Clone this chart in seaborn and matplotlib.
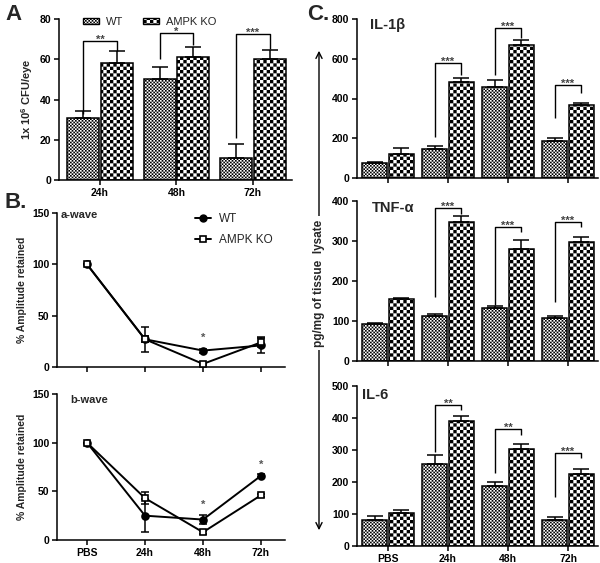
import warnings
import numpy as np
import pandas as pd
import matplotlib
matplotlib.use("Agg")
import matplotlib.pyplot as plt
import matplotlib.hatch as mhatch
from matplotlib.path import Path
from matplotlib.patches import Patch, FancyArrowPatch
from matplotlib.lines import Line2D
import seaborn as sns

warnings.filterwarnings("ignore")

# ---------------------------------------------------------------
# Data
# ---------------------------------------------------------------
groups = ["WT", "AMPK KO"]

# A: bacterial burden
cfu_times = ["24h", "48h", "72h"]
cfu_wt = [31, 50, 11]
cfu_wt_err = [3.5, 6, 7]
cfu_ko = [58, 61, 60]
cfu_ko_err = [6, 5, 4.5]
cfu_stars = ["**", "*", "***"]
cfu_br_top = [69, 73, 72.5]
cfu_br_left = [33, 60, 21]
cfu_br_right = [64, 67, 65]

# B: ERG amplitude retained
wave_times = ["PBS", "24h", "48h", "72h"]
awave_wt = [100, 27, 16, 21]
awave_wt_err = [0, 12, 2, 7]
awave_ko = [100, 27, 3, 24]
awave_ko_err = [0, 3, 1, 5]
awave_star_at = ["48h"]
awave_star_y = [28]

bwave_wt = [100, 25, 21, 66]
bwave_wt_err = [0, 17, 5, 1.5]
bwave_ko = [100, 43, 8, 46]
bwave_ko_err = [0, 6, 1.5, 1.5]
bwave_star_at = ["48h", "72h"]
bwave_star_y = [36, 77]

# C: cytokines
cyto_times = ["PBS", "24h", "48h", "72h"]
il1_wt = [75, 148, 460, 185]
il1_wt_err = [8, 15, 35, 18]
il1_ko = [120, 485, 670, 365]
il1_ko_err = [30, 18, 25, 12]
il1_stars = ["", "***", "***", "***"]
il1_br_top = [0, 579, 755, 468]
il1_br_left = [0, 206, 518, 302]
il1_br_right = [0, 518, 704, 427]

tnf_wt = [92, 112, 132, 108]
tnf_wt_err = [3, 6, 6, 4]
tnf_ko = [155, 348, 280, 298]
tnf_ko_err = [3, 15, 23, 13]
tnf_stars = ["", "***", "***", "***"]
tnf_br_top = [0, 382, 335, 348]
tnf_br_left = [0, 160, 140, 148]
tnf_br_right = [0, 368, 322, 335]

il6_wt = [82, 255, 188, 82]
il6_wt_err = [13, 28, 12, 10]
il6_ko = [103, 390, 303, 225]
il6_ko_err = [10, 17, 17, 15]
il6_stars = ["", "**", "**", "***"]
il6_br_top = [0, 441, 366, 291]
il6_br_left = [0, 294, 228, 153]
il6_br_right = [0, 425, 347, 275]


# ---------------------------------------------------------------
# checkerboard fill ('c' in a hatch string), like the GraphPad fills
# ---------------------------------------------------------------
class CheckerHatch(mhatch.HatchPatternBase):
    def __init__(self, hatch, density):
        self.n = hatch.count("c") * density
        self.num_vertices = (self.n * self.n // 2) * 5

    def set_vertices_and_codes(self, vertices, codes):
        s = 1.0 / self.n
        k = 0
        for i in range(self.n):
            for j in range(self.n):
                if (i + j) % 2:
                    continue
                x, y = i * s, j * s
                vertices[k:k + 5] = [(x, y), (x + s, y), (x + s, y + s), (x, y + s), (x, y)]
                codes[k:k + 5] = [Path.MOVETO, Path.LINETO, Path.LINETO, Path.LINETO, Path.CLOSEPOLY]
                k += 5


mhatch._hatch_types.append(CheckerHatch)
hatches = {"WT": "c" * 10, "AMPK KO": "c" * 5}

sns.set_theme(style="ticks")
plt.rcParams.update({
    "font.family": ["Liberation Sans", "DejaVu Sans"],
    "font.weight": "bold",
    "axes.labelweight": "bold",
    "axes.edgecolor": "black",
    "axes.linewidth": 1.1,
    "xtick.color": "black",
    "ytick.color": "black",
    "xtick.major.width": 1.1,
    "ytick.major.width": 1.1,
    "xtick.major.size": 3.5,
    "ytick.major.size": 3.5,
    "xtick.major.pad": 2.5,
    "ytick.major.pad": 2,
    "xtick.labelsize": 7.5,
    "ytick.labelsize": 7.5,
    "hatch.linewidth": 0.0,
    "hatch.color": "black",
    "mathtext.fontset": "custom",
    "mathtext.rm": "Liberation Sans:bold",
    "mathtext.bf": "Liberation Sans:bold",
    "mathtext.it": "Liberation Sans:bold",
})

W, H = 600, 563
fig = plt.figure(figsize=(W / 100, H / 100), dpi=100)


def px_axes(left, top, right, bottom):
    return fig.add_axes([left / W, 1 - bottom / H, (right - left) / W, (bottom - top) / H])


def bar_panel(ax, cats, wt, wt_err, ko, ko_err, stars, br_top, br_left, br_right,
              ymax, ystep, xlim, show_xlabels=True):
    df = pd.DataFrame({
        "time": cats * 2,
        "group": [groups[0]] * len(cats) + [groups[1]] * len(cats),
        "value": wt + ko,
    })
    sns.barplot(data=df, x="time", y="value", hue="group", hue_order=groups,
                palette=["white", "white"], saturation=1, edgecolor="black",
                linewidth=1.1, width=0.88, gap=0.05, errorbar=None,
                legend=False, ax=ax)
    centres = []
    for cont, g, err in zip(ax.containers, groups, [wt_err, ko_err]):
        xs = [p.get_x() + p.get_width() / 2 for p in cont]
        hs = [p.get_height() for p in cont]
        for p in cont:
            p.set_hatch(hatches[g])
        ax.errorbar(xs, hs, yerr=[np.zeros(len(err)), err], fmt="none",
                    ecolor="black", elinewidth=1.1, capsize=5.5, capthick=1.1)
        centres.append(xs)
    for i, s in enumerate(stars):
        if not s:
            continue
        x0, x1 = centres[0][i], centres[1][i]
        ax.plot([x0, x0, x1, x1], [br_left[i], br_top[i], br_top[i], br_right[i]],
                color="black", lw=1.0, solid_capstyle="butt")
        # asterisks sit right on top of the bracket
        ax.annotate(s, ((x0 + x1) / 2, br_top[i]), xytext=(0, -1.3),
                    textcoords="offset points", ha="center", va="baseline",
                    fontsize=8, color="#444444")
    ax.set_ylim(0, ymax)
    ax.set_yticks(np.arange(0, ymax + 1, ystep))
    ax.set_xlim(*xlim)
    ax.set_xlabel("")
    ax.set_ylabel("")
    if not show_xlabels:
        ax.set_xticklabels([])
    sns.despine(ax=ax)


def wave_panel(ax, wt, wt_err, ko, ko_err, star_at, star_y, title, title_xy, show_xlabels):
    pos = np.arange(len(wave_times))
    df = pd.DataFrame({
        "time": list(pos) * 2,
        "group": [groups[0]] * len(pos) + [groups[1]] * len(pos),
        "amp": wt + ko,
    })
    ax.errorbar(pos, wt, yerr=wt_err, fmt="none", ecolor="black", elinewidth=1.1,
                capsize=2.8, capthick=1.1, zorder=2)
    ax.errorbar(pos, ko, yerr=ko_err, fmt="none", ecolor="black", elinewidth=1.1,
                capsize=2.8, capthick=1.1, zorder=2)
    sns.lineplot(data=df, x="time", y="amp", hue="group", style="group",
                 hue_order=groups, style_order=groups, palette=["black", "black"],
                 markers={"WT": "o", "AMPK KO": "s"}, dashes=False, markersize=5,
                 markeredgecolor="black", markeredgewidth=1.2, linewidth=1.4,
                 legend=False, ax=ax, zorder=3, clip_on=False)
    for ln in ax.lines:
        if ln.get_marker() == "s":
            ln.set_markerfacecolor("white")
    for t, y in zip(star_at, star_y):
        ax.text(wave_times.index(t), y, "*", ha="center", va="center",
                fontsize=8, color="#555555")
    ax.text(title_xy[0], title_xy[1], title, transform=ax.transAxes, ha="left",
            va="center", fontsize=8)
    ax.set_ylim(0, 150)
    ax.set_yticks([0, 50, 100, 150])
    ax.set_xticks(pos, wave_times if show_xlabels else [""] * len(pos))
    ax.set_xlim(-0.517, 3.414)
    ax.set_xlabel("")
    ax.set_ylabel("% Amplitude retained", fontsize=7.5)
    ax.yaxis.set_label_coords(-0.13, 0.5)
    sns.despine(ax=ax)


# ---------------- A ----------------
axA = px_axes(59, 19, 292, 180)
bar_panel(axA, cfu_times, cfu_wt, cfu_wt_err, cfu_ko, cfu_ko_err, cfu_stars,
          cfu_br_top, cfu_br_left, cfu_br_right, 80, 20, (-0.536, 2.51))
axA.set_ylabel(r"1x 10$^{6}$ CFU/eye", fontsize=8)
axA.yaxis.set_label_coords(-0.104, 0.5)
legA = [Patch(facecolor="white", edgecolor="black", lw=1.0, hatch=hatches[g], label=g)
        for g in groups]
axA.legend(handles=legA, ncol=2, frameon=False, loc="upper center",
           bbox_to_anchor=(0.39, 1.075), prop={"weight": "normal", "size": 8},
           handlelength=1.45, handleheight=0.5, handletextpad=0.6, columnspacing=1.8)

# ---------------- B ----------------
axB1 = px_axes(57, 213, 285, 367)
wave_panel(axB1, awave_wt, awave_wt_err, awave_ko, awave_ko_err,
           awave_star_at, awave_star_y, "a-wave", (0.015, 0.985), False)
legB = [Line2D([], [], color="black", lw=1.4, marker="o", markersize=5,
               markeredgecolor="black", label=groups[0]),
        Line2D([], [], color="black", lw=1.4, marker="s", markersize=5,
               markerfacecolor="white", markeredgecolor="black", markeredgewidth=1.2,
               label=groups[1])]
axB1.legend(handles=legB, frameon=False, loc="upper left", bbox_to_anchor=(0.56, 1.07),
            prop={"weight": "normal", "size": 8.5}, handlelength=1.3,
            handletextpad=0.7, labelspacing=0.75)

axB2 = px_axes(57, 394, 285, 540)
wave_panel(axB2, bwave_wt, bwave_wt_err, bwave_ko, bwave_ko_err,
           bwave_star_at, bwave_star_y, "b-wave", (0.057, 0.96), True)

# ---------------- C ----------------
cxlim = (-0.517, 3.5)
axC1 = px_axes(357, 19, 598, 178)
bar_panel(axC1, cyto_times, il1_wt, il1_wt_err, il1_ko, il1_ko_err, il1_stars,
          il1_br_top, il1_br_left, il1_br_right, 800, 200, cxlim, show_xlabels=False)
axC1.text(0.054, 0.962, "IL-1β", transform=axC1.transAxes, ha="left", va="center",
          fontsize=10.5)

axC2 = px_axes(357, 201, 598, 361)
bar_panel(axC2, cyto_times, tnf_wt, tnf_wt_err, tnf_ko, tnf_ko_err, tnf_stars,
          tnf_br_top, tnf_br_left, tnf_br_right, 400, 100, cxlim, show_xlabels=False)
axC2.text(0.062, 0.956, "TNF-α", transform=axC2.transAxes, ha="left", va="center",
          fontsize=10.5)

axC3 = px_axes(357, 386, 598, 546)
bar_panel(axC3, cyto_times, il6_wt, il6_wt_err, il6_ko, il6_ko_err, il6_stars,
          il6_br_top, il6_br_left, il6_br_right, 500, 100, cxlim)
axC3.text(0.02, 0.944, "IL-6", transform=axC3.transAxes, ha="left", va="center",
          fontsize=10.5)

# shared y label with the long double arrow
fig.patches.append(FancyArrowPatch((319 / W, 1 - 48 / H), (319 / W, 1 - 533 / H),
                                   transform=fig.transFigure, arrowstyle="<->",
                                   mutation_scale=11, lw=1.0, color="black"))
fig.text(319 / W, 1 - 283 / H, "pg/mg of tissue  lysate", rotation=90, ha="center",
         va="center", fontsize=8.5,
         bbox=dict(facecolor="white", edgecolor="none", pad=2.5))

# panel letters
fig.text(5 / W, 1 - 15 / H, "A", fontsize=16, ha="left", va="center")
fig.text(5 / W, 1 - 203 / H, "B.", fontsize=16, ha="left", va="center")
fig.text(307 / W, 1 - 15 / H, "C.", fontsize=16, ha="left", va="center")

fig.savefig("out.png", dpi=100)
